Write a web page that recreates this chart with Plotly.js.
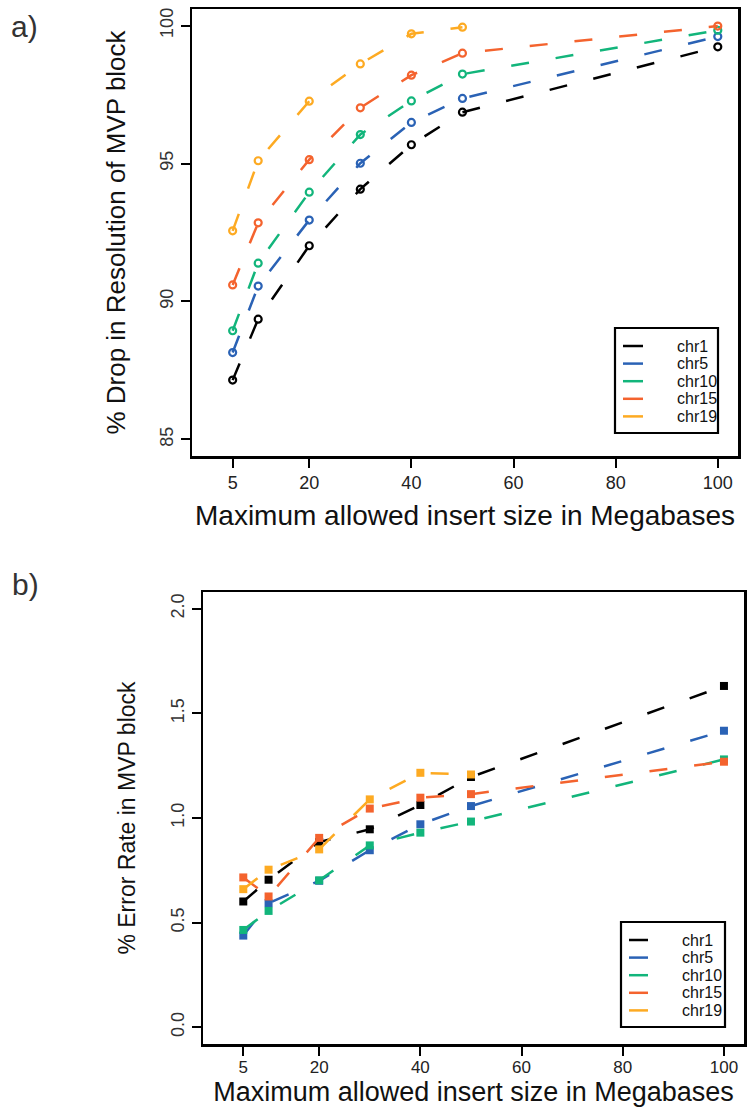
<!DOCTYPE html>
<html>
<head>
<meta charset="utf-8">
<script src="https://cdn.plot.ly/plotly-3.0.1.min.js"></script>
<style>html,body{margin:0;padding:0;background:#fff;}#chart{width:751px;height:1109px;}</style>
</head>
<body>
<div id="chart"></div>
<script>
// ---------- data ----------
const insertSizes = [5, 10, 20, 30, 40, 50, 100];
const seriesNames = ['chr1', 'chr5', 'chr10', 'chr15', 'chr19'];
const xTickVals = [5, 20, 40, 60, 80, 100];
const topYTicks = [85, 90, 95, 100];
const bottomYTicks = [0.0, 0.5, 1.0, 1.5, 2.0];

// a) % Drop in Resolution of MVP block
const dropChr1  = [87.15, 89.36, 92.02, 94.07, 95.68, 96.86, 99.23];
const dropChr5  = [88.15, 90.56, 92.95, 95.01, 96.49, 97.36, 99.60];
const dropChr10 = [88.94, 91.39, 93.96, 96.05, 97.27, 98.24, 99.83];
const dropChr15 = [90.60, 92.85, 95.14, 97.02, 98.20, 99.00, 99.98];
const dropChr19 = [92.56, 95.10, 97.26, 98.61, 99.70, 99.94, null];

// b) % Error Rate in MVP block
const errChr1  = [0.601, 0.705, 0.885, 0.946, 1.062, 1.196, 1.631];
const errChr5  = [0.438, 0.593, 0.700, 0.846, 0.970, 1.057, 1.417];
const errChr10 = [0.465, 0.556, 0.702, 0.869, 0.930, 0.983, 1.280];
const errChr15 = [0.716, 0.625, 0.905, 1.045, 1.097, 1.114, 1.269];
const errChr19 = [0.660, 0.753, 0.850, 1.089, 1.216, 1.208, null];

const xTitle = 'Maximum allowed insert size in Megabases';
const topTitleY = '% Drop in Resolution of MVP block';
const botTitleY = '% Error Rate in MVP block';

// ---------- styles ----------
const colors = ['#000000', '#2A62B5', '#12B57B', '#F4632E', '#FDAA22'];
const W = 751, H = 1109;
const FONT = 'Liberation Sans, Arial, Helvetica, sans-serif';
const px = v => v / W;
const py = v => 1 - v / H;

const dropSeries = [dropChr1, dropChr5, dropChr10, dropChr15, dropChr19];
const errSeries = [errChr1, errChr5, errChr10, errChr15, errChr19];

const traces = [];
dropSeries.forEach((ys, i) => traces.push({
  x: insertSizes, y: ys, name: seriesNames[i], xaxis: 'x', yaxis: 'y',
  type: 'scatter', mode: 'lines+markers', showlegend: false, cliponaxis: false,
  line: {color: colors[i], width: 2.5, dash: '18px,27px'},
  marker: {symbol: 'circle-open', size: 7, color: colors[i], line: {color: colors[i], width: 2.2}}
}));
errSeries.forEach((ys, i) => traces.push({
  x: insertSizes, y: ys, name: seriesNames[i], xaxis: 'x2', yaxis: 'y2',
  type: 'scatter', mode: 'lines+markers', showlegend: false, cliponaxis: false,
  line: {color: colors[i], width: 2.5, dash: '18px,27px'},
  marker: {symbol: 'square', size: 8, color: colors[i]}
}));

function xAxis(dom, anchor, standoff, tickSize, titleSize, labelShift) {
  return {
    domain: dom, anchor: anchor, range: [-2.96, 103.96], tickmode: 'array', tickvals: xTickVals,
    ticks: 'outside', ticklen: 9, tickwidth: 2, tickcolor: '#000', ticklabelstandoff: labelShift,
    showline: true, mirror: true, linewidth: 2.5, linecolor: '#000',
    showgrid: false, zeroline: false, automargin: false,
    tickfont: {family: FONT, size: tickSize, color: '#222'},
    title: {text: xTitle, standoff: standoff, font: {family: FONT, size: titleSize, color: '#111'}}
  };
}
function yAxis(dom, anchor, range, ticks, fmt, title, standoff, titleSize) {
  return {
    domain: dom, anchor: anchor, range: range, tickmode: 'array', tickvals: ticks, tickformat: fmt,
    ticks: 'outside', ticklen: 9, tickwidth: 2, tickcolor: '#000', tickangle: -90,
    showline: true, mirror: true, linewidth: 2.5, linecolor: '#000',
    showgrid: false, zeroline: false, automargin: false,
    tickfont: {family: FONT, size: 18, color: '#333'},
    title: {text: title, standoff: standoff, font: {family: FONT, size: titleSize, color: '#111'}}
  };
}

// manual legends (line sample + label) built from the series names
const shapes = [];
const annotations = [];
function addLegend(box, lineX0, lineX1, textX, rowY) {
  shapes.push({type: 'rect', xref: 'paper', yref: 'paper',
    x0: px(box[0]), x1: px(box[1]), y0: py(box[3]), y1: py(box[2]),
    line: {color: '#000', width: 2.2}, fillcolor: 'rgba(0,0,0,0)'});
  seriesNames.forEach((nm, i) => {
    const yy = rowY[0] + i * rowY[1];
    shapes.push({type: 'line', xref: 'paper', yref: 'paper',
      x0: px(lineX0), x1: px(lineX1), y0: py(yy), y1: py(yy),
      line: {color: colors[i], width: 2.5}});
    annotations.push({xref: 'paper', yref: 'paper', x: px(textX), y: py(yy),
      xanchor: 'left', yanchor: 'middle', showarrow: false, text: nm,
      font: {family: FONT, size: 16, color: '#111'}});
  });
}
addLegend([615, 718, 328, 433], 623, 643, 675, [346, 17.6]);
addLegend([621, 725, 922, 1027], 629, 648, 680, [940, 17.6]);

annotations.push({xref: 'paper', yref: 'paper', x: px(24), y: py(26), xanchor: 'center', yanchor: 'middle',
  showarrow: false, text: 'a)', font: {family: FONT, size: 30, color: '#333'}});
annotations.push({xref: 'paper', yref: 'paper', x: px(25), y: py(584), xanchor: 'center', yanchor: 'middle',
  showarrow: false, text: 'b)', font: {family: FONT, size: 30, color: '#333'}});

const layout = {
  width: W, height: H, margin: {l: 0, r: 0, t: 0, b: 0},
  paper_bgcolor: '#fff', plot_bgcolor: '#fff', showlegend: false,
  xaxis: xAxis([px(192), px(738)], 'y', 14, 18, 28, 0),
  yaxis: yAxis([py(456), py(9)], 'x', [84.4, 100.6], topYTicks, 'd', topTitleY, 24, 26),
  xaxis2: xAxis([px(203), px(744)], 'y2', 3, 17, 27, -3),
  yaxis2: yAxis([py(1044), py(592)], 'x2', [-0.08, 2.08], bottomYTicks, '.1f', botTitleY, 26, 23),
  shapes: shapes, annotations: annotations
};

Plotly.newPlot('chart', traces, layout, {displayModeBar: false, staticPlot: true});
</script>
</body>
</html>
